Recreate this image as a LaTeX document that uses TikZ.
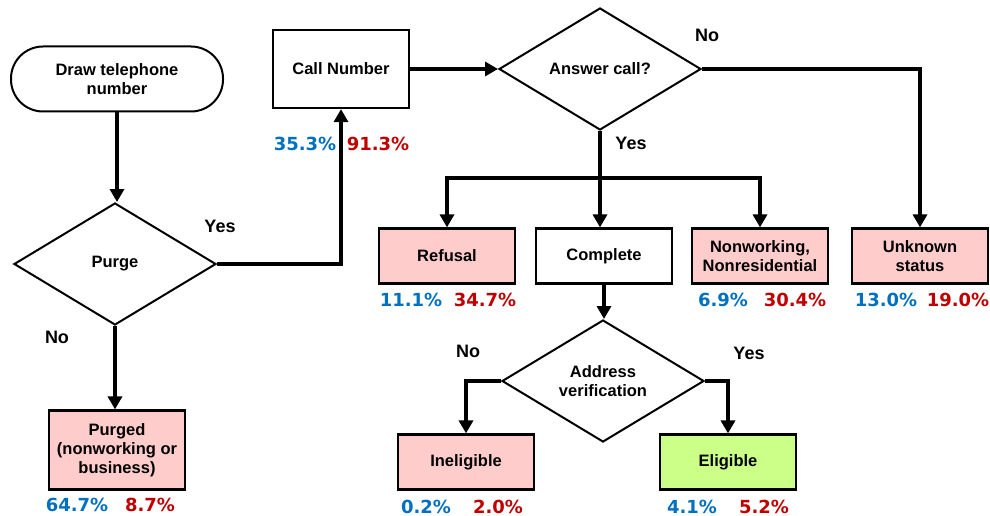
\documentclass[tikz,border=0pt]{standalone}
\usepackage{fontspec}
\setmainfont{Liberation Sans}
\newfontfamily\pctfont{DejaVu Sans}
\usetikzlibrary{shapes.geometric,arrows.meta}
\definecolor{pinkfill}{RGB}{255,204,204}
\definecolor{greenfill}{RGB}{204,255,136}
\definecolor{pblue}{RGB}{0,112,192}
\definecolor{pred}{RGB}{192,0,0}
\tikzset{
  box/.style={draw, line width=2.2pt, minimum width=136pt, minimum height=55pt, inner sep=2pt, align=center, font=\fontsize{16.5}{19}\selectfont\bfseries},
  redbox/.style={box, fill=pinkfill},
  dia/.style={draw, diamond, line width=2pt, minimum width=202pt, minimum height=122pt, inner sep=0pt, align=center, font=\fontsize{16.5}{19}\selectfont\bfseries},
  term/.style={draw, line width=2pt, rounded corners=32pt, minimum width=212pt, minimum height=65pt, align=center, font=\fontsize{16.5}{19}\selectfont\bfseries},
  conn/.style={line width=3.4pt, -{Triangle[length=13pt,width=14pt]}},
  lab/.style={font=\fontsize{18}{20}\selectfont\bfseries},
  pb/.style={font=\fontsize{18}{20}\selectfont\pctfont\bfseries, text=pblue},
  pr/.style={font=\fontsize{18}{20}\selectfont\pctfont\bfseries, text=pred}
}
\begin{document}
\begin{tikzpicture}[x=1pt,y=-1pt]
\useasboundingbox (0,0) rectangle (990,516);
% nodes
\node[term] (start) at (117,79) {Draw telephone\\number};
\node[dia] (purge) at (115,264) {Purge};
\node[box, minimum height=78pt] (call) at (341,69) {Call Number};
\node[dia] (answer) at (600,69) {Answer call?};
\node[redbox, minimum height=79pt] (purged) at (117,450) {Purged\\(nonworking or\\business)};
\node[redbox] (refusal) at (447,256) {Refusal};
\node[box] (complete) at (604,256) {Complete};
\node[redbox] (nonwork) at (760,256) {Nonworking,\\Nonresidential};
\node[redbox] (unknown) at (920,256) {Unknown\\status};
\node[dia] (address) at (603,381) {Address\\verification};
\node[redbox] (inelig) at (466,462) {Ineligible};
\node[box, fill=greenfill] (elig) at (728,462) {Eligible};
\coordinate (j) at (600,178);
% connectors
\draw[conn] (start.south) -- (start.south |- purge.north);
\draw[conn] (purge.east) -| (call.south);
\draw[conn] (purge.south) -- (purge.south |- purged.north);
\draw[conn] (call.east) -- (answer.west);
\draw[conn] (answer.east) -| (unknown.north);
\draw[conn] (answer.south) -- (answer.south |- complete.north);
\draw[conn] (j) -| (refusal.north);
\draw[conn] (j) -| (nonwork.north);
\draw[conn] (complete.south) -- (complete.south |- address.north);
\draw[conn] (address.west) -| (inelig.north);
\draw[conn] (address.east) -| (elig.north);
% yes/no labels
\node[lab] (y1) at (220,226) {Yes};
\node[lab] (n1) at (57,337) {No};
\node[lab] (n2) at (707,35) {No};
\node[lab] (y2) at (631,143) {Yes};
\node[lab] (n3) at (468,351) {No};
\node[lab] (y3) at (749,353) {Yes};
% percentages
\node[pb] (cb) at (305,144) {35.3\%};
\node[pr] (cr) at (378,144) {91.3\%};
\node[pb] (rb) at (411,300) {11.1\%};
\node[pr] (rr) at (485,300) {34.7\%};
\node[pb] (nb) at (723,300) {6.9\%};
\node[pr] (nr) at (795,300) {30.4\%};
\node[pb] (ub) at (886,300) {13.0\%};
\node[pr] (ur) at (958,300) {19.0\%};
\node[pb] (ib) at (426,507) {0.2\%};
\node[pr] (ir) at (498,507) {2.0\%};
\node[pb] (eb) at (692,507) {4.1\%};
\node[pr] (er) at (764,507) {5.2\%};
\node[pb] (pgb) at (77,505) {64.7\%};
\node[pr] (pgr) at (150,505) {8.7\%};
\end{tikzpicture}
\end{document}
